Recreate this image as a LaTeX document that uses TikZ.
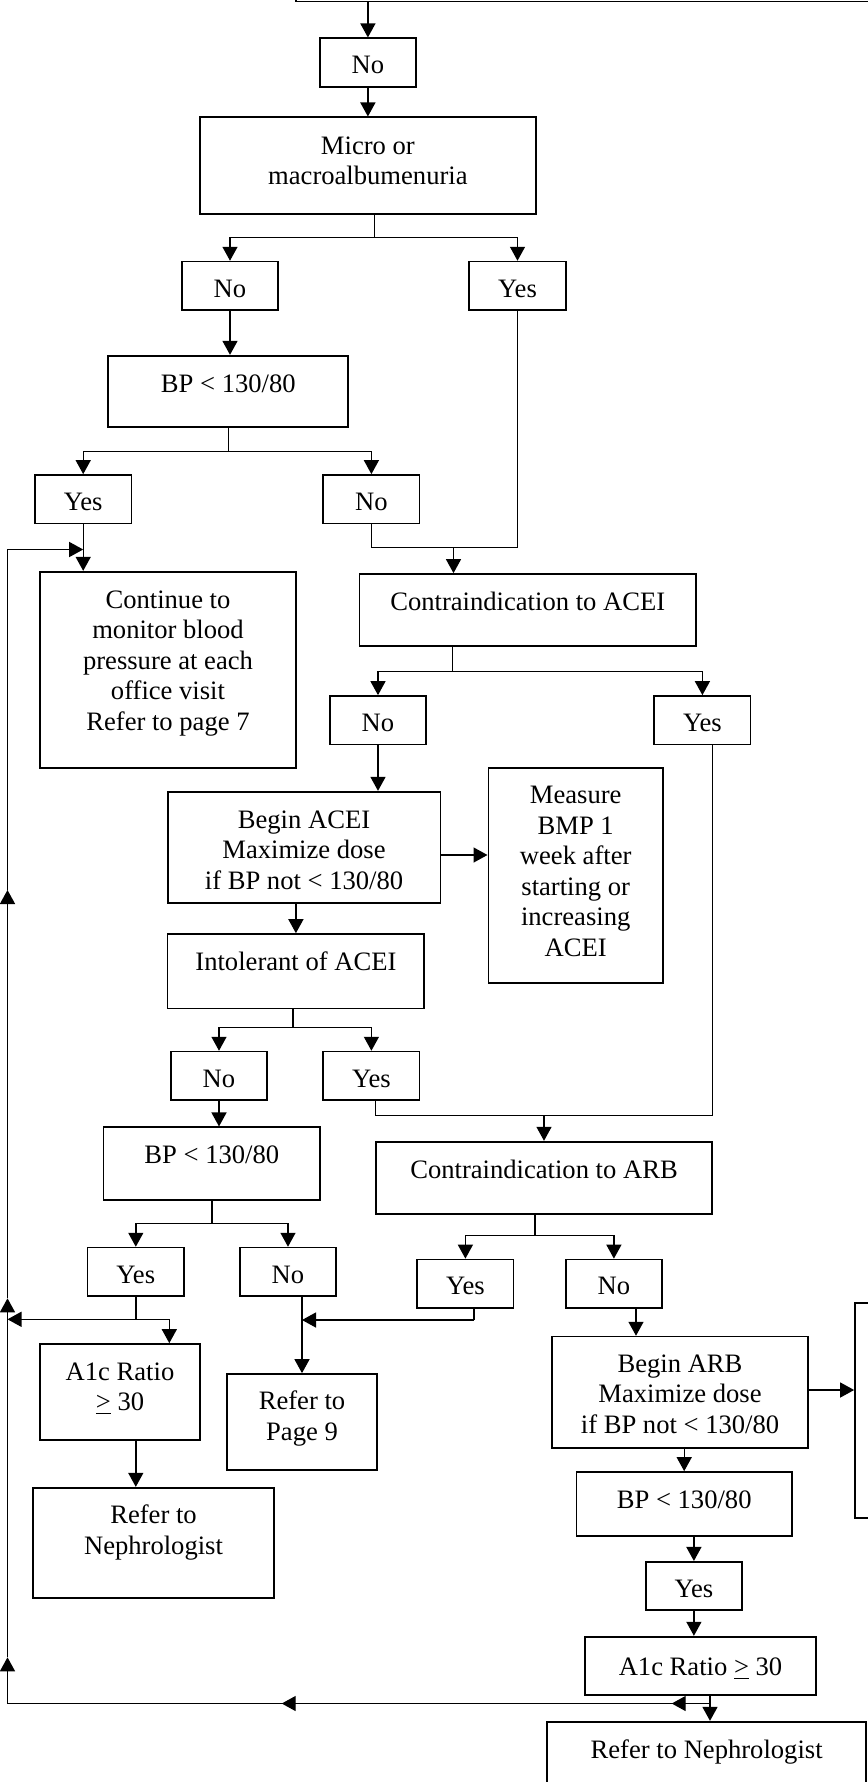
\documentclass[tikz,border=0pt]{standalone}
\usepackage{fontspec}
\setmainfont{Liberation Serif}
\usetikzlibrary{arrows.meta}

\begin{document}
\begin{tikzpicture}[
    x=0.5pt, y=-0.5pt,
    box/.style={draw, line width=0.85pt, inner sep=0pt, align=center, text height=12pt, text depth=3.26pt, font=\fontsize{13.3}{15.3}\selectfont},
    yn/.style={box, minimum width=48.2pt, minimum height=24.2pt, text depth=0.76pt},
    link/.style={line width=0.7pt},
    arrow/.style={link, -{Triangle[length=7pt, width=7.5pt]}}
]
\useasboundingbox (0,0) rectangle (867,1782);

\node[box, minimum width=302pt, minimum height=30.75pt] (topbox) at (598,-29.25) {};
\node[yn] (no1) at (367.9,62.5) {No};
\node[box, minimum width=168.15pt, minimum height=48.35pt, text height=27.3pt, text depth=8.16pt] (micro) at (367.9,165.7) {Micro or\\macroalbumenuria};
\node[yn] (no2) at (230,285.8) {No};
\node[yn] (yes1) at (517.5,285.8) {Yes};
\node[box, minimum width=120pt, minimum height=35.8pt, text depth=11.46pt] (bp1) at (228.3,391.5) {BP < 130/80};
\node[yn] (yes2) at (83.2,499.2) {Yes};
\node[yn] (no3) at (371.4,499.2) {No};
\node[box, minimum width=128pt, minimum height=98.3pt, text height=73.2pt, text depth=12.76pt] (cont) at (168,670) {Continue to\\monitor blood\\pressure at each\\office visit\\Refer to page 7};
\node[box, minimum width=168.15pt, minimum height=36pt, text depth=11.56pt] (acei) at (527.7,610) {Contraindication to ACEI};
\node[yn] (no4) at (378,720.2) {No};
\node[yn] (yes3) at (702.4,720.2) {Yes};
\node[box, minimum width=136.35pt, minimum height=55.8pt, text height=42.6pt, text depth=0.76pt] (bacei) at (304,847.5) {Begin ACEI\\Maximize dose\\if BP not < 130/80};
\node[box, minimum width=87.35pt, minimum height=107.2pt, text height=88.5pt, text depth=7.46pt] (bmp) at (575.7,875.5) {Measure\\BMP 1\\week after\\starting or\\increasing\\ACEI};
\node[box, minimum width=128.3pt, minimum height=37.15pt, text depth=12.76pt] (intol) at (295.9,971.2) {Intolerant of ACEI};
\node[yn] (no5) at (219,1075.8) {No};
\node[yn] (yes4) at (371.4,1075.8) {Yes};
\node[box, minimum width=108.4pt, minimum height=36.5pt, text depth=12.06pt] (bp2) at (211.8,1163.8) {BP < 130/80};
\node[box, minimum width=167.85pt, minimum height=36.15pt, text depth=11.06pt] (arb) at (544,1177.8) {Contraindication to ARB};
\node[yn] (yes5) at (135.8,1271.8) {Yes};
\node[yn] (no6) at (288,1271.8) {No};
\node[yn] (yes6) at (465.4,1283.7) {Yes};
\node[yn] (no7) at (613.9,1283.7) {No};
\node[box, minimum width=80pt, minimum height=48.1pt, text height=27.3pt, text depth=8.66pt] (a1c) at (120,1392.1) {A1c Ratio\\\underline{>} 30};
\node[box, minimum width=75.3pt, minimum height=48pt, text height=27.3pt, text depth=8.86pt] (page9) at (302,1422) {Refer to\\Page 9};
\node[box, minimum width=120.3pt, minimum height=55.1pt, text height=27.3pt, text depth=15.66pt] (neph) at (153.5,1542.8) {Refer to\\Nephrologist};
\node[box, minimum width=128pt, minimum height=55.7pt, text height=42.6pt, text depth=1.56pt] (barb) at (680,1392.3) {Begin ARB\\Maximize dose\\if BP not < 130/80};
\node[box, minimum width=72.5pt, minimum height=107.8pt] (bmpb) at (927.5,1410.5) {};
\node[box, minimum width=107.85pt, minimum height=32pt, text depth=7.36pt] (bp3) at (684.2,1504) {BP < 130/80};
\node[yn] (yes7) at (693.9,1586) {Yes};
\node[box, minimum width=115.5pt, minimum height=29.15pt, text depth=2.5pt] (a1cb) at (700.5,1665.8) {A1c Ratio \underline{>} 30};
\node[box, minimum width=159.35pt, minimum height=39.15pt, text depth=14.11pt] (nephb) at (706.65,1760.85) {Refer to Nephrologist};

\coordinate (f1) at (374.4,237.7);
\coordinate (f2) at (228.3,451.7);
\coordinate (m1) at (453.5,547.7);
\coordinate (f3) at (452.4,671.7);
\coordinate (ym) at (0,855);
\coordinate (f4) at (293.1,1027.3);
\coordinate (m2) at (544,1115.7);
\coordinate (f5) at (211.8,1223.4);
\coordinate (f6) at (534.8,1235.6);
\coordinate (s1) at (135.8,1319.3);
\coordinate (s2) at (169.3,1319.3);
\coordinate (s3) at (474,1320);
\coordinate (v1) at (636,1308);
\coordinate (yb) at (0,1390);
\coordinate (j) at (710,1703.5);
\coordinate (l1) at (671.7,1703.5);
\coordinate (l2) at (281.7,1703.5);
\coordinate (c0) at (7.5,1703.5);
\coordinate (u1) at (7.5,1657.3);
\coordinate (u2) at (7.5,1298.3);
\coordinate (u3) at (7.5,890);
\coordinate (c1) at (7.5,549.5);

\draw[arrow] (no1 |- topbox.south) -- (no1);
\draw[arrow] (no1) -- (micro);
\draw[link] (f1 |- micro.south) -- (f1);
\draw[arrow] (f1) -| (no2);
\draw[arrow] (f1) -| (yes1);
\draw[arrow] (no2) -- (no2 |- bp1.north);
\draw[link] (bp1) -- (f2);
\draw[arrow] (f2) -| (yes2);
\draw[arrow] (f2) -| (no3);
\draw[arrow] (yes2) -- (yes2 |- cont.north);
\draw[link] (no3) |- (m1);
\draw[link] (yes1) |- (m1);
\draw[arrow] (m1) -- (m1 |- acei.north);
\draw[link] (f3 |- acei.south) -- (f3);
\draw[arrow] (f3) -| (no4);
\draw[arrow] (f3) -| (yes3);
\draw[arrow] (no4) -- (no4 |- bacei.north);
\draw[arrow] (bacei.east |- ym) -- (bmp.west |- ym);
\draw[arrow] (intol |- bacei.south) -- (intol);
\draw[link] (f4 |- intol.south) -- (f4);
\draw[arrow] (f4) -| (no5);
\draw[arrow] (f4) -| (yes4);
\draw[arrow] (no5) -- (no5 |- bp2.north);
\draw[link] (yes4.south -| arb.west) |- (m2);
\draw[link] (yes3.south -| arb.east) |- (m2);
\draw[arrow] (m2) -- (arb);
\draw[link] (bp2) -- (f5);
\draw[arrow] (f5) -| (yes5);
\draw[arrow] (f5) -| (no6);
\draw[link] (f6 |- arb.south) -- (f6);
\draw[arrow] (f6) -| (yes6);
\draw[arrow] (f6) -| (no7);
\draw[link] (yes5) -- (s1);
\draw[arrow] (s1) -- (s1 -| c0);
\draw[arrow] (s1) -- (s2) -- (s2 |- a1c.north);
\draw[arrow] (page9 |- no6.south) -- (page9);
\draw[link] (s3 |- yes6.south) -- (s3);
\draw[arrow] (s3) -- (s3 -| page9);
\draw[arrow] (s1 |- a1c.south) -- (s1 |- neph.north);
\draw[arrow] (v1 |- no7.south) -- (v1 |- barb.north);
\draw[arrow] (barb.east |- yb) -- (bmpb.west |- yb);
\draw[arrow] (bp3 |- barb.south) -- (bp3);
\draw[arrow] (yes7 |- bp3.south) -- (yes7);
\draw[arrow] (yes7) -- (yes7 |- a1cb.north);
\draw[arrow] (j |- a1cb.south) -- (j |- nephb.north);
\draw[arrow] (j) -- (l1);
\draw[arrow] (l1) -- (l2);
\draw[arrow] (l2) -- (c0) -- (u1);
\draw[arrow] (u1) -- (u2);
\draw[arrow] (u2) -- (u3);
\draw[arrow] (u3) -- (c1) -- (yes2 |- c1);

\end{tikzpicture}
\end{document}
